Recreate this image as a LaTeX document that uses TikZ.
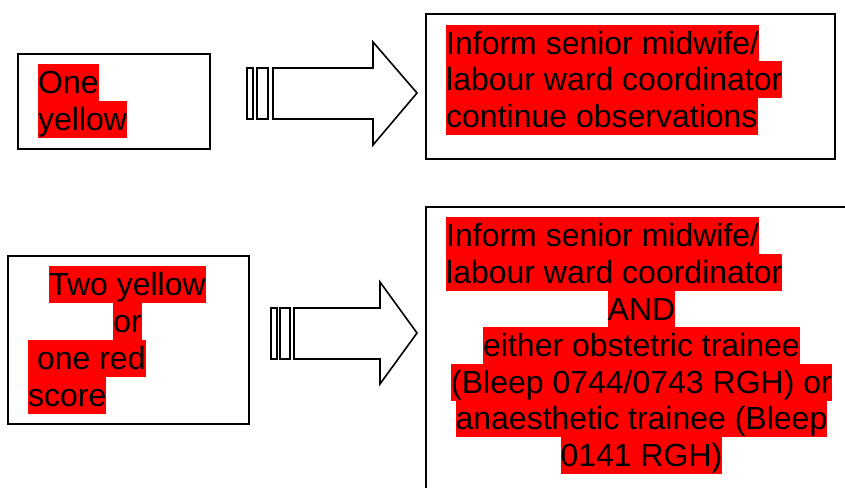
\documentclass[tikz,border=0pt]{standalone}
\usepackage{fontspec}
\setmainfont{Liberation Sans}
\begin{document}
\begin{tikzpicture}[x=1pt,y=-1pt,
  box/.style={draw=black,line width=2pt,inner sep=0pt,anchor=north west},
  hl/.style={fill=red,inner xsep=0pt,inner ysep=0pt,text height=29pt,text depth=8pt,font=\fontsize{32}{37}\selectfont},
  barstyle/.style={draw=black,line width=1.6pt,fill=white},
  blockarrow/.style={draw=black,line width=1.6pt,fill=white,line join=miter}]
\useasboundingbox (0,0) rectangle (845,487);
\clip (0,0) rectangle (845,487);
% boxes
\node[box,minimum width=192pt,minimum height=95pt] (b1) at (17,53) {};
\node[box,minimum width=409pt,minimum height=145pt] (b2) at (425,13) {};
\node[box,minimum width=241pt,minimum height=168pt] (b3) at (7,255) {};
\node[box,minimum width=440pt,minimum height=300pt] (b4) at (425,206) {};
% texts
\node[hl,anchor=north west] (t1a) at (38,64) {One};
\node[hl,anchor=north west] (t1b) at (38,101) {yellow};
\node[hl,anchor=north west] (t2a) at (446,25) {Inform senior midwife/};
\node[hl,anchor=north west] (t2b) at (446,61) {labour ward coordinator};
\node[hl,anchor=north west] (t2c) at (446,98) {continue observations};
\node[hl,anchor=north] (t3a) at (127.5,266) {Two yellow};
\node[hl,anchor=north] (t3b) at (127.5,303) {or};
\node[hl,anchor=north west] (t3c) at (28,340) {\ one red};
\node[hl,anchor=north west] (t3d) at (28,377) {score};
\node[hl,anchor=north west] (t4a) at (446,217) {Inform senior midwife/};
\node[hl,anchor=north west] (t4b) at (446,254) {labour ward coordinator};
\node[hl,anchor=north] (t4c) at (641.5,291) {AND};
\node[hl,anchor=north] (t4d) at (641.5,327) {either obstetric trainee};
\node[hl,anchor=north] (t4e) at (641.5,364) {(Bleep 0744/0743 RGH) or};
\node[hl,anchor=north] (t4f) at (641.5,400) {anaesthetic trainee (Bleep};
\node[hl,anchor=north] (t4g) at (641.5,437) {0141 RGH)};
% arrow 1
\draw[barstyle] (247,68) rectangle (253,119);
\draw[barstyle] (257,68) rectangle (268,119);
\draw[blockarrow] (273,68) -- (373,68) -- (373,42) -- (417,93) -- (373,145) -- (373,119) -- (273,119) -- cycle;
% arrow 2
\draw[barstyle] (271,308) rectangle (277,359);
\draw[barstyle] (280,308) rectangle (290,359);
\draw[blockarrow] (294,308) -- (380,308) -- (380,282) -- (417,333) -- (380,384) -- (380,359) -- (294,359) -- cycle;
\end{tikzpicture}
\end{document}
